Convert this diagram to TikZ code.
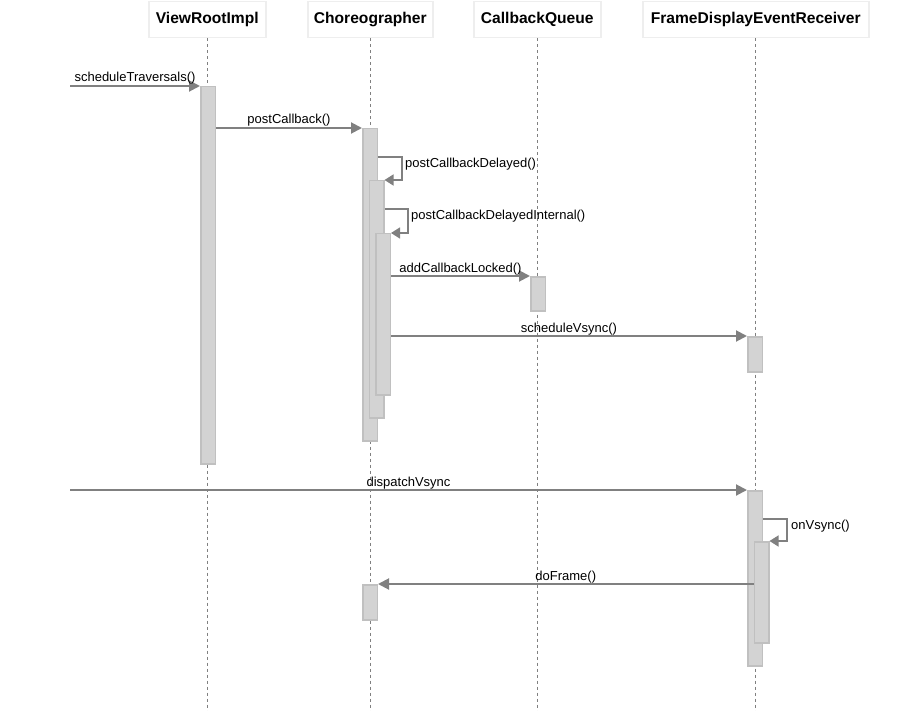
\documentclass[tikz,border=0pt]{standalone}
\usepackage{fontspec}
\setmainfont{Liberation Sans}
\usetikzlibrary{arrows.meta}
\definecolor{linegray}{HTML}{808080}
\definecolor{actfill}{HTML}{D3D3D3}
\definecolor{actdraw}{HTML}{C0C0C0}
\definecolor{headdraw}{HTML}{EEEEEE}
\begin{document}
\begin{tikzpicture}[x=1pt,y=-1pt,
 head/.style={draw=headdraw, line width=1.5pt, fill=white, inner sep=0pt, minimum height=36pt, font=\fontsize{15.6}{18}\selectfont\bfseries, anchor=north west},
 act/.style={draw=actdraw, line width=1.5pt, fill=actfill, inner sep=0pt, anchor=north west, minimum width=14.5pt},
 life/.style={draw=linegray, dash pattern=on 3pt off 3pt, line width=0.8pt},
 msg/.style={draw=linegray, line width=2pt, -{Triangle[length=11pt,width=11pt]}},
 loopmsg/.style={draw=linegray, line width=1.4pt, -{Triangle[length=9pt,width=11pt]}},
 lbl/.style={font=\fontsize{13}{15}\selectfont, inner sep=0pt, anchor=base}
]
\useasboundingbox (0,0) rectangle (920,711);
\coordinate (bot) at (0,711);
% headers
\node[head, minimum width=117pt] (hv) at (148,1) {ViewRootImpl};
\node[head, minimum width=125pt] (hc) at (307,1) {Choreographer};
\node[head, minimum width=127pt] (hq) at (473,1) {CallbackQueue};
\node[head, minimum width=226pt] (hf) at (642,1) {FrameDisplayEventReceiver};
% lifelines
\draw[life] (hv.south) -- (hv.south |- bot);
\draw[life] (hc.south) -- (hc.south |- bot);
\draw[life] (hq.south) -- (hq.south |- bot);
\draw[life] (hf.south) -- (hf.south |- bot);
% activations
\node[act, minimum height=377pt] (vr1) at (200,86) {};
\node[act, minimum height=312pt] (ch1) at (362,128) {};
\node[act, minimum height=237pt] (ch2) at (368.5,180) {};
\node[act, minimum height=161pt] (ch3) at (375,233) {};
\node[act, minimum height=34pt] (cq) at (530,276) {};
\node[act, minimum height=35pt] (fd1) at (747,336) {};
\node[act, minimum height=175pt] (fd2) at (747,490) {};
\node[act, minimum height=101pt] (fd3) at (753.5,541) {};
\node[act, minimum height=35pt] (ch4) at (362,584) {};
% free ends
\coordinate (s1) at (70,86);
\coordinate (s2) at (70,490);
\coordinate (l1) at (402,157);
\coordinate (l2) at (408,209);
\coordinate (l3) at (787,519);
% messages
\draw[msg] (s1) -- node[lbl, midway, yshift=4pt] {scheduleTraversals()} (vr1.north west);
\draw[msg] (vr1.east |- ch1.north) -- node[lbl, midway, yshift=4pt] {postCallback()} (ch1.north west);
\draw[loopmsg] (ch1.east |- l1) -- (l1) -- (l1 |- ch2.north) -- (ch2.north east);
\node[lbl, anchor=base west] (t3) at (405,168) {postCallbackDelayed()};
\draw[loopmsg] (ch2.east |- l2) -- (l2) -- (l2 |- ch3.north) -- (ch3.north east);
\node[lbl, anchor=base west] (t4) at (411,220) {postCallbackDelayedInternal()};
\draw[msg] (ch3.east |- cq.north) -- node[lbl, midway, yshift=4pt] {addCallbackLocked()} (cq.north west);
\draw[msg] (ch3.east |- fd1.north) -- node[lbl, midway, yshift=4pt] {scheduleVsync()} (fd1.north west);
\draw[msg] (s2) -- node[lbl, midway, yshift=4pt] {dispatchVsync} (fd2.north west);
\draw[loopmsg] (fd2.east |- l3) -- (l3) -- (l3 |- fd3.north) -- (fd3.north east);
\node[lbl, anchor=base west] (t8) at (791,529) {onVsync()};
\draw[msg] (fd3.west |- ch4.north) -- node[lbl, midway, yshift=4pt] {doFrame()} (ch4.north east);
\end{tikzpicture}
\end{document}
